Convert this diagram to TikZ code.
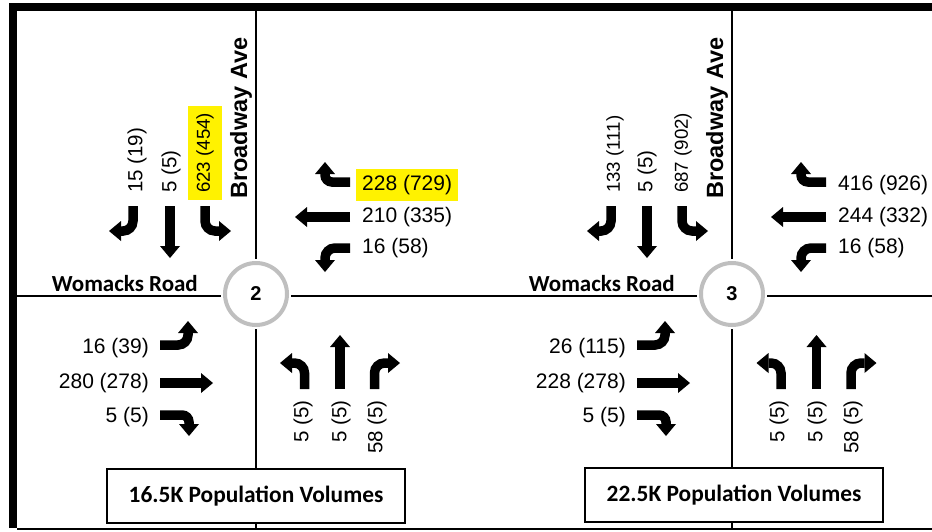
\documentclass[tikz,border=0pt]{standalone}
\usepackage{fontspec}
\setmainfont{Liberation Sans}
\newfontfamily\carlito{Carlito}
\usetikzlibrary{arrows.meta}
\tikzset{
  mv/.style={line width=9.5pt, -{Triangle[width=20pt,length=12pt,line width=0pt]}, rounded corners=10pt},
  mvt/.style={mv, rounded corners=7pt},
  num/.style={font=\fontsize{21}{21}\selectfont, inner sep=0pt},
  vnum/.style={font=\fontsize{20.5}{20.5}\selectfont, inner sep=0pt, rotate=90},
  vnuml/.style={font=\fontsize{18.7}{18.7}\selectfont, inner sep=0pt, rotate=90},
  hl/.style={fill=yellow, inner xsep=6pt, inner ysep=6pt},
  vhl/.style={fill=yellow, inner xsep=7pt, inner ysep=8.5pt},
  road/.style={line width=2pt},
  streetname/.style={font=\carlito\bfseries\fontsize{23}{23}\selectfont, inner sep=0pt},
  avename/.style={font=\bfseries\fontsize{23.5}{23.5}\selectfont, inner sep=0pt, rotate=90},
  junction/.style={circle, draw=gray!50, line width=4pt, fill=white, minimum size=62pt, inner sep=0pt, font=\bfseries\fontsize{20}{20}\selectfont},
  popbox/.style={draw, line width=1.5pt, fill=white, minimum width=298pt, minimum height=54pt, font=\carlito\bfseries\fontsize{23.4}{23.4}\selectfont}
}
\begin{document}
\begin{tikzpicture}[x=1pt,y=-1pt]
\useasboundingbox (0,0) rectangle (932,531);
\fill[white] (0,0) rectangle (932,531);
% frame
\fill[black] (9,3) rectangle (932,11);
\fill[black] (9,3) rectangle (17,528);
\draw[road] (17,529) -- (932,529);
% roads
\coordinate (wL) at (17,296);
\coordinate (wR) at (932,296);
\coordinate (b2T) at (256,11);
\coordinate (b2B) at (256,529);
\coordinate (b3T) at (732,11);
\coordinate (b3B) at (732,529);
\draw[road] (wL) -- (wR);
\draw[road] (b2T) -- (b2B);
\draw[road] (b3T) -- (b3B);

% ===== Intersection 2 =====
\begin{scope}[shift={(256,296)}]
  \fill[white] (0,-2) circle[radius=35pt];
  \node[junction] (j2) at (0,-2) {2};
  \node[streetname, anchor=base east] (wr2) at (-58,-5) {Womacks Road};
  \node[avename, anchor=base west] (ba2) at (-9,-97) {Broadway Ave};
  % southbound
  \draw[mv] (-123,-90) -- (-123,-65) -- (-147,-65);
  \draw[mv] (-86,-90) -- (-86,-38);
  \draw[mv] (-51,-90) -- (-51,-65) -- (-25,-65);
  \node[vnum, anchor=west] (s2a) at (-119,-103) {15 (19)};
  \node[vnum, anchor=west] (s2b) at (-85,-103) {5 (5)};
  \node[vnuml, vhl, anchor=west] (s2c) at (-51,-96) {623 (454)};
  % westbound
  \draw[mvt] (94,-114) -- (69,-114) -- (69,-134);
  \draw[mv] (94,-79) -- (39,-79);
  \draw[mv] (94,-48) -- (69,-48) -- (69,-24);
  \node[num, hl, anchor=west] (w2a) at (100,-111) {228 (729)};
  \node[num, anchor=west] (w2b) at (106,-79) {210 (335)};
  \node[num, anchor=west] (w2c) at (106,-48) {16 (58)};
  % eastbound
  \draw[mv] (-96,49) -- (-68,49) -- (-68,25);
  \draw[mv] (-96,87) -- (-43,87);
  \draw[mvt] (-96,119) -- (-67,119) -- (-67,140);
  \node[num, anchor=east] (e2a) at (-107,52) {16 (39)};
  \node[num, anchor=east] (e2b) at (-107,87) {280 (278)};
  \node[num, anchor=east] (e2c) at (-107,121) {5 (5)};
  % northbound
  \draw[mv] (48.5,93) -- (48.5,67) -- (24,67);
  \draw[mv] (84,93) -- (84,39);
  \draw[mv] (118.5,93) -- (118.5,67) -- (144,67);
  \node[vnum, anchor=east] (n2a) at (47,104) {5 (5)};
  \node[vnum, anchor=east] (n2b) at (85,104) {5 (5)};
  \node[vnum, anchor=east] (n2c) at (121,104) {58 (5)};
  \node[popbox] (p2) at (0,200) {16.5K Population Volumes};
\end{scope}

% ===== Intersection 3 =====
\begin{scope}[shift={(732,296)}]
  \fill[white] (0,-2) circle[radius=35pt];
  \node[junction] (j3) at (0,-2) {3};
  \node[streetname, anchor=base east] (wr3) at (-57,-5) {Womacks Road};
  \node[avename, anchor=base west] (ba3) at (-9,-97) {Broadway Ave};
  % southbound
  \draw[mv] (-121,-90) -- (-121,-65) -- (-145,-65);
  \draw[mv] (-85,-90) -- (-85,-38);
  \draw[mv] (-50,-90) -- (-50,-65) -- (-24,-65);
  \node[vnuml, anchor=west] (s3a) at (-117,-103) {133 (111)};
  \node[vnum, anchor=west] (s3b) at (-85,-103) {5 (5)};
  \node[vnuml, anchor=west] (s3c) at (-49,-103) {687 (902)};
  % westbound
  \draw[mvt] (94,-114) -- (69,-114) -- (69,-134);
  \draw[mv] (94,-79) -- (39,-79);
  \draw[mv] (94,-48) -- (69,-48) -- (69,-24);
  \node[num, anchor=west] (w3a) at (106,-111) {416 (926)};
  \node[num, anchor=west] (w3b) at (106,-79) {244 (332)};
  \node[num, anchor=west] (w3c) at (106,-48) {16 (58)};
  % eastbound
  \draw[mv] (-95,49) -- (-67,49) -- (-67,25);
  \draw[mv] (-95,87) -- (-42,87);
  \draw[mvt] (-95,119) -- (-66,119) -- (-66,140);
  \node[num, anchor=east] (e3a) at (-106,52) {26 (115)};
  \node[num, anchor=east] (e3b) at (-106,87) {228 (278)};
  \node[num, anchor=east] (e3c) at (-106,121) {5 (5)};
  % northbound
  \draw[mv] (49,93) -- (49,67) -- (24.5,67);
  \draw[mv] (84.5,93) -- (84.5,39);
  \draw[mv] (119,93) -- (119,67) -- (144.5,67);
  \node[vnum, anchor=east] (n3a) at (47,104) {5 (5)};
  \node[vnum, anchor=east] (n3b) at (85,104) {5 (5)};
  \node[vnum, anchor=east] (n3c) at (121,104) {58 (5)};
  \node[popbox] (p3) at (2,199) {22.5K Population Volumes};
\end{scope}
\end{tikzpicture}
\end{document}
